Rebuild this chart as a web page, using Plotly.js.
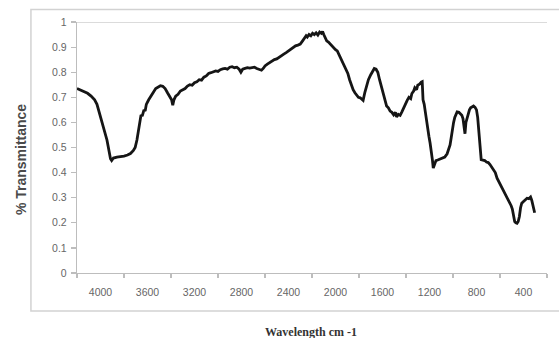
<!DOCTYPE html>
<html>
<head>
<meta charset="utf-8">
<script src="https://cdn.plot.ly/plotly-3.0.1.min.js"></script>
<style>html,body{margin:0;padding:0;background:#fff;}#chart{width:559px;height:338px;}</style>
</head>
<body>
<div id="chart"></div>
<script>
// Wavenumber (cm-1) and transmittance
var wavenumber = [4200,4170,4140,4110,4080,4050,4030,4010,3990,3975,3960,3945,3935,3925,3915,3905,3890,3860,3830,3800,3770,3745,3720,3705,3690,3680,3665,3655,3645,3630,3620,3610,3590,3570,3550,3530,3510,3490,3470,3450,3430,3410,3395,3385,3375,3360,3340,3320,3300,3280,3260,3240,3220,3200,3180,3160,3140,3120,3100,3080,3060,3040,3020,3000,2980,2960,2940,2920,2900,2880,2860,2840,2820,2805,2790,2770,2750,2730,2710,2690,2670,2650,2630,2615,2600,2580,2560,2540,2520,2500,2480,2460,2440,2420,2400,2380,2360,2340,2320,2300,2280,2260,2250,2240,2225,2210,2195,2180,2165,2150,2135,2120,2110,2100,2090,2075,2060,2045,2030,2015,2000,1985,1970,1955,1940,1925,1910,1895,1880,1865,1850,1835,1820,1805,1790,1775,1765,1750,1735,1720,1700,1685,1670,1655,1640,1625,1610,1595,1580,1565,1550,1535,1520,1505,1490,1480,1465,1450,1435,1420,1405,1390,1375,1360,1350,1335,1325,1310,1300,1285,1270,1262,1255,1245,1235,1225,1215,1205,1195,1185,1175,1168,1160,1145,1130,1110,1090,1070,1050,1035,1025,1015,1005,995,985,975,965,950,935,925,915,905,898,890,880,870,860,850,838,825,812,800,790,780,772,765,760,745,730,715,700,685,670,655,640,625,610,595,580,565,550,535,520,505,495,485,475,465,455,445,435,425,415,400,385,370,355,340,330,322,315,305];
var transmittance = [0.735,0.728,0.722,0.716,0.705,0.690,0.672,0.640,0.605,0.585,0.560,0.530,0.505,0.480,0.455,0.448,0.458,0.462,0.463,0.466,0.470,0.476,0.488,0.500,0.530,0.557,0.600,0.630,0.625,0.650,0.645,0.672,0.690,0.708,0.720,0.735,0.742,0.746,0.744,0.735,0.718,0.700,0.690,0.668,0.690,0.705,0.712,0.725,0.730,0.735,0.745,0.750,0.748,0.758,0.762,0.770,0.768,0.780,0.785,0.795,0.798,0.800,0.805,0.803,0.810,0.813,0.815,0.812,0.820,0.822,0.818,0.820,0.812,0.800,0.812,0.815,0.818,0.816,0.818,0.820,0.815,0.812,0.808,0.815,0.825,0.832,0.838,0.845,0.850,0.853,0.860,0.868,0.872,0.878,0.885,0.892,0.900,0.905,0.908,0.912,0.925,0.938,0.945,0.940,0.950,0.945,0.955,0.950,0.957,0.948,0.960,0.955,0.962,0.950,0.938,0.925,0.920,0.912,0.905,0.895,0.890,0.885,0.870,0.858,0.842,0.825,0.812,0.795,0.770,0.748,0.730,0.718,0.710,0.700,0.698,0.692,0.688,0.720,0.750,0.770,0.790,0.805,0.815,0.812,0.800,0.770,0.745,0.718,0.690,0.665,0.658,0.645,0.640,0.630,0.640,0.622,0.632,0.628,0.642,0.660,0.672,0.688,0.700,0.695,0.715,0.725,0.738,0.730,0.748,0.752,0.760,0.762,0.690,0.672,0.640,0.600,0.580,0.545,0.518,0.490,0.450,0.418,0.430,0.448,0.450,0.455,0.458,0.462,0.475,0.495,0.510,0.540,0.575,0.600,0.620,0.635,0.642,0.640,0.632,0.628,0.615,0.570,0.555,0.600,0.620,0.635,0.650,0.658,0.663,0.665,0.660,0.650,0.620,0.570,0.530,0.470,0.452,0.450,0.448,0.442,0.440,0.432,0.420,0.410,0.400,0.378,0.365,0.350,0.335,0.320,0.308,0.300,0.285,0.268,0.255,0.230,0.205,0.200,0.198,0.205,0.225,0.260,0.278,0.285,0.292,0.298,0.296,0.303,0.290,0.275,0.258,0.240];
var xTickVals = [4000,3600,3200,2800,2400,2000,1600,1200,800,400];
var xTickText = ['4000','3600','3200','2800','2400','2000','1600','1200','800','400'];
var yTitle = '% Transmittance';
var xTitle = 'Wavelength cm -1';

var trace = {
  x: wavenumber, y: transmittance, type: 'scatter', mode: 'lines',
  line: {color: '#151515', width: 2.8, shape: 'linear'},
  hoverinfo: 'none'
};

var layout = {
  width: 559, height: 338,
  margin: {l: 77, r: 12, t: 22, b: 65},
  paper_bgcolor: '#ffffff', plot_bgcolor: '#ffffff',
  showlegend: false,
  font: {family: 'Liberation Sans, Arial, sans-serif', size: 10, color: '#6b6b6b'},
  xaxis: {
    range: [4200, 200], autorange: false,
    tickvals: xTickVals, ticktext: xTickText,
    ticks: '', ticklen: 0, ticklabelstandoff: 9,
    showgrid: false, zeroline: false,
    showline: true, linecolor: '#bdbdbd', linewidth: 1.2,
    tickfont: {family: 'Liberation Sans, Arial, sans-serif', size: 10.5, color: '#666666'},
    minor: {tick0: 200, dtick: 400, ticks: 'outside', ticklen: 4, tickcolor: '#bdbdbd', tickwidth: 1.2, showgrid: false}
  },
  yaxis: {
    range: [0, 1], autorange: false, dtick: 0.1, tick0: 0,
    ticks: 'outside', ticklen: 5, tickcolor: '#bdbdbd', tickwidth: 1.2,
    ticklabelstandoff: 2,
    showgrid: false, zeroline: false,
    showline: true, linecolor: '#bdbdbd', linewidth: 1.2,
    tickfont: {family: 'Liberation Sans, Arial, sans-serif', size: 10.5, color: '#666666'}
  },
  shapes: [
    {type: 'rect', xref: 'paper', yref: 'paper', x0: -0.098, x1: 1.035, y0: -0.1514, y1: 1.0498,
     line: {color: '#d2d2d2', width: 1.5}, fillcolor: 'rgba(0,0,0,0)', layer: 'below'},
    {type: 'line', xref: 'paper', yref: 'y', x0: 0, x1: 1, y0: 1, y1: 1,
     line: {color: '#cfcfcf', width: 1.5}, layer: 'below'}
  ],
  annotations: [
    {text: yTitle, xref: 'paper', yref: 'paper', x: -0.119, y: 0.45, textangle: -90,
     showarrow: false, xanchor: 'center', yanchor: 'middle',
     font: {family: 'Liberation Sans, Arial, sans-serif', size: 14, color: '#4a4a4a', weight: 'bold'}},
    {text: xTitle, xref: 'paper', yref: 'paper', x: 0.497, y: -0.235,
     showarrow: false, xanchor: 'center', yanchor: 'middle',
     font: {family: 'Liberation Serif, Times New Roman, serif', size: 12, color: '#333333', weight: 'bold'}}
  ]
};

Plotly.newPlot('chart', [trace], layout, {displayModeBar: false, staticPlot: true});
</script>
</body>
</html>
